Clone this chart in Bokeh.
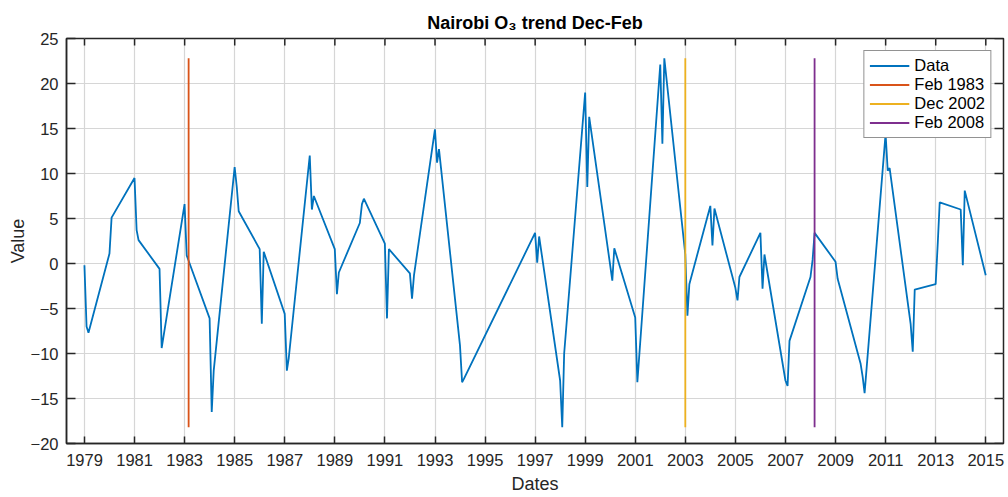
import math
import pandas as pd
from bokeh.plotting import figure
from bokeh.models import Range1d, FixedTicker
from bokeh.embed import file_html
from bokeh.resources import INLINE

# ---- data: Dec (previous year), Jan, Feb values for each winter ----
winters = [1979, 1980, 1981, 1982, 1983, 1984, 1985, 1986, 1987, 1988,
           1989, 1990, 1991, 1992, 1993, 1994, 1997, 1998, 1999, 2000,
           2001, 2002, 2003, 2004, 2005, 2006, 2007, 2008, 2009, 2010,
           2011, 2012, 2013, 2014, 2015]
dec_vals = [-0.2, 1.1, 9.5, -0.6, 6.6, -6.1, 10.7, 1.6, -5.6, 12.0,
            1.6, 4.5, 2.2, -1.1, 14.9, -9.1, 3.4, -13.0, 19.0, -0.2,
            -6.0, 22.1, 1.0, 6.4, -2.7, 3.4, -13.0, -1.5, 0.2, -11.1,
            14.4, -6.7, -2.3, 6.0, -1.3]
jan_vals = [-7.0, 5.1, 3.7, -9.4, 0.9, -16.5, 8.5, -6.7, -11.9, 6.0,
            -3.4, 6.6, -6.1, -3.9, 11.2, -13.2, 0.1, -18.2, 8.5, -1.9,
            -13.2, 13.3, -5.8, 2.0, -4.1, -2.8, -13.6, 0.4, -1.7, -12.6,
            10.3, -9.8, 2.3, -0.2, None]
feb_vals = [-7.7, None, 2.6, None, 0.3, -11.9, 5.8, 1.3, -10.5, 7.5,
            -1.0, 7.2, 1.6, -1.3, 12.7, -12.8, 3.0, -10.0, 16.3, 1.7,
            None, 22.8, -2.3, 6.1, -1.5, 1.0, -8.6, 3.4, None, -14.4,
            10.6, -2.9, 6.8, 8.1, None]

event_dates = [(1983, 2), (2002, 12), (2008, 2)]
event_labels = ["Feb 1983", "Dec 2002", "Feb 2008"]
event_colors = ["#D95319", "#EDB120", "#7E2F8E"]

x_ticks = list(range(1979, 2016, 2))
y_ticks = list(range(-20, 26, 5))
x_lim = (1978.281, 2015.707)
y_lim = (-20, 25)


def month_end_year(y, m):
    t = pd.Timestamp(y, m, 1) + pd.offsets.MonthEnd(0)
    start = pd.Timestamp(y, 1, 1)
    end = pd.Timestamp(y + 1, 1, 1)
    return y + (t - start) / (end - start)


xs, ys = [], []
for w, d, j, f in zip(winters, dec_vals, jan_vals, feb_vals):
    for (yy, mm, v) in ((w - 1, 12, d), (w, 1, j), (w, 2, f)):
        if v is not None:
            xs.append(month_end_year(yy, mm))
            ys.append(v)

ymin, ymax = min(ys), max(ys)

FONT = "Liberation Sans"
DARK = "#262626"

p = figure(width=1008, height=497, output_backend="svg", toolbar_location=None,
           x_range=Range1d(*x_lim), y_range=Range1d(*y_lim),
           min_border_left=66, min_border_right=5, min_border_top=38,
           min_border_bottom=54, title="Nairobi O\u2083 trend Dec-Feb")
p.background_fill_color = "white"
p.border_fill_color = "white"
p.outline_line_color = DARK
p.outline_line_width = 1.5

p.title.align = "center"
p.title.text_font = FONT
p.title.text_font_size = "18px"
p.title.text_font_style = "bold"
p.title.text_color = "black"
p.title.standoff = 11

# grid
for g, t in ((p.xgrid, x_ticks), (p.ygrid, y_ticks)):
    g.ticker = FixedTicker(ticks=t)
    g.grid_line_color = "#d6d6d6"
    g.grid_line_width = 1.2

# main axes
p.xaxis.ticker = FixedTicker(ticks=x_ticks)
p.yaxis.ticker = FixedTicker(ticks=y_ticks)
p.xaxis.axis_label = "Dates"
p.yaxis.axis_label = "Value"
for ax, tl in ((p.xaxis, 7), (p.yaxis, 9)):
    ax.major_tick_in = tl
    ax.major_tick_out = 0
    ax.minor_tick_in = 0
    ax.minor_tick_out = 0
    ax.axis_line_color = DARK
    ax.axis_line_width = 1.5
    ax.major_tick_line_color = DARK
    ax.major_tick_line_width = 1.5
    ax.major_label_text_font = FONT
    ax.major_label_text_font_size = "16.5px"
    ax.major_label_text_color = DARK
    ax.axis_label_text_font = FONT
    ax.axis_label_text_font_size = "18px"
    ax.axis_label_text_font_style = "normal"
    ax.axis_label_text_color = DARK
p.xaxis.major_label_standoff = 10
p.xaxis.axis_label_standoff = 5
p.yaxis.major_label_standoff = 8
p.yaxis.axis_label_standoff = 0

# inward ticks on the top and right edges of the box
p.ray(x=x_ticks, y=[y_lim[1]] * len(x_ticks), length=7, length_units="screen",
      angle=-math.pi / 2, line_color=DARK, line_width=1.5)
p.ray(x=[x_lim[1]] * len(y_ticks), y=y_ticks, length=9, length_units="screen",
      angle=math.pi, line_color=DARK, line_width=1.5)

# data
p.line(xs, ys, line_color="#0072BD", line_width=1.8, legend_label="Data")

for (ey, em), lab, col in zip(event_dates, event_labels, event_colors):
    ex = month_end_year(ey, em)
    p.line([ex, ex], [ymin, ymax], line_color=col, line_width=1.8, legend_label=lab)

lg = p.legend[0]
lg.location = "top_right"
lg.margin = 12
lg.padding = 5
lg.spacing = 0
lg.glyph_width = 40
lg.glyph_height = 19
lg.label_height = 19
lg.label_standoff = 5
lg.label_text_font = FONT
lg.label_text_font_size = "16.5px"
lg.label_text_color = "black"
lg.border_line_color = DARK
lg.border_line_width = 1.5
lg.background_fill_color = "white"
lg.background_fill_alpha = 1.0

open("out.html", "w").write(file_html(p, INLINE))
